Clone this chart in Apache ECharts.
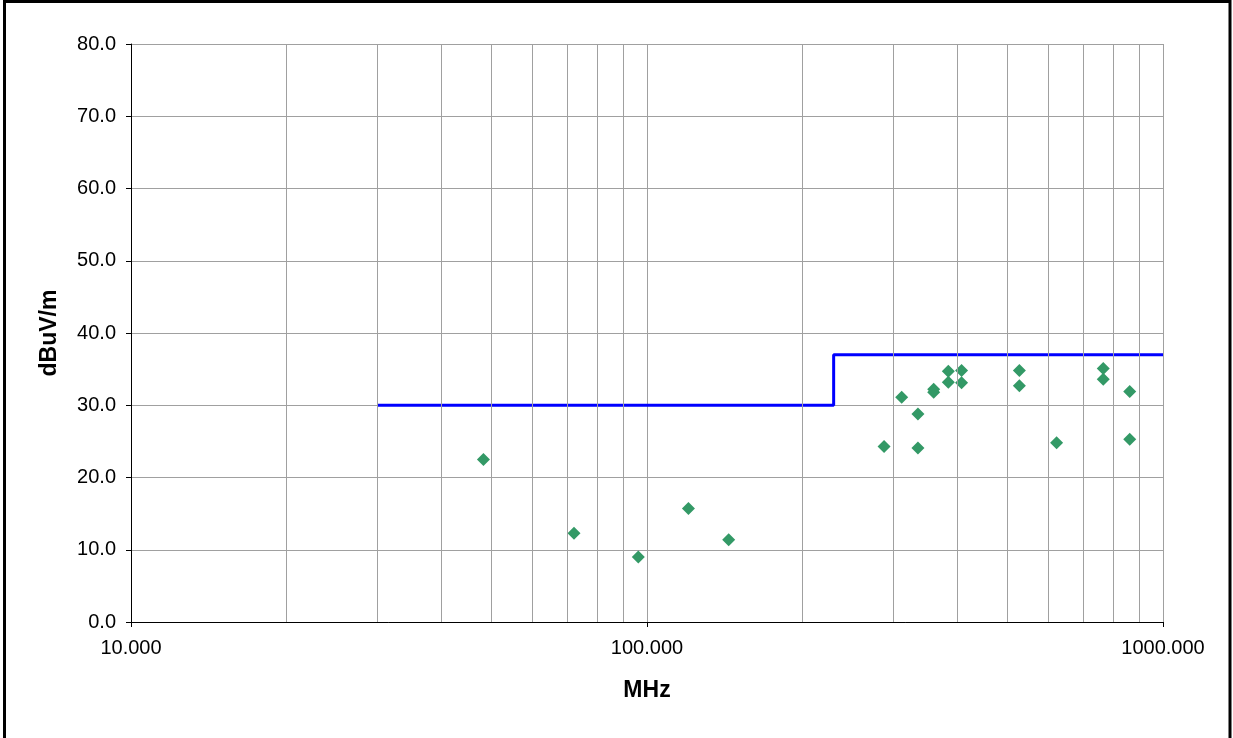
<!DOCTYPE html>
<html>
<head>
<meta charset="utf-8">
<script src="https://cdn.jsdelivr.net/npm/echarts@6/dist/echarts.min.js"></script>
<style>
html,body{margin:0;padding:0;background:#fff;}
#chart{width:1233px;height:738px;}
</style>
</head>
<body>
<div id="chart"></div>
<script>
// Measured emissions (MHz, dBuV/m)
const freqMHz = [48.2, 72.2, 96.2, 120.3, 144.0, 288, 311.6, 335, 335, 359.4, 359.4, 383.7, 383.7, 407, 407, 526.8, 526.8, 622, 766, 766, 862, 862];
const levels  = [22.5, 12.3, 9.0, 15.7, 11.4, 24.3, 31.1, 28.8, 24.1, 32.2, 31.8, 34.7, 33.2, 34.8, 33.1, 34.8, 32.7, 24.8, 35.1, 33.6, 31.9, 25.3];
// Limit line
const limitFreq = [30, 230, 230, 1000];
const limitLevel = [30, 30, 37, 37];
// Minor log grid lines
const minorGrid = [20, 30, 40, 50, 60, 70, 80, 90, 200, 300, 400, 500, 600, 700, 800, 900];
const yTicks = [0, 10, 20, 30, 40, 50, 60, 70, 80];

const chart = echarts.init(document.getElementById('chart'), null, {renderer: 'canvas'});
const font = 'Liberation Sans, Arial, sans-serif';
const option = {
  animation: false,
  backgroundColor: '#fff',
  grid: {left: 131, right: 70, top: 44, bottom: 116, containLabel: false},
  graphic: [{
    type: 'rect', silent: true, z: 100,
    shape: {x: 4.5, y: 1.5, width: 1225.5, height: 745},
    style: {fill: 'none', stroke: '#000', lineWidth: 3}
  }],
  xAxis: {
    type: 'log', logBase: 10, min: 10, max: 1000,
    name: 'MHz', nameLocation: 'middle', nameGap: 57,
    nameTextStyle: {fontFamily: font, fontSize: 23, fontWeight: 'bold', color: '#000'},
    axisLine: {show: true, onZero: false, lineStyle: {color: '#000', width: 1}},
    axisTick: {show: true, length: 5, inside: false, lineStyle: {color: '#000'}},
    axisLabel: {fontFamily: font, fontSize: 20, color: '#000', margin: 16,
      formatter: v => Number(v).toFixed(3)},
    splitLine: {show: true, lineStyle: {color: '#a0a0a0', width: 1}},
    minorTick: {show: false}, minorSplitLine: {show: false}
  },
  yAxis: {
    type: 'value', min: 0, max: 80, interval: 10,
    name: 'dBuV/m', nameLocation: 'middle', nameGap: 70,
    nameTextStyle: {fontFamily: font, fontSize: 23, fontWeight: 'bold', color: '#000'},
    axisLine: {show: true, lineStyle: {color: '#000', width: 1}},
    axisTick: {show: true, length: 5, lineStyle: {color: '#000'}},
    axisLabel: {fontFamily: font, fontSize: 20, color: '#000', margin: 15,
      formatter: v => Number(v).toFixed(1)},
    splitLine: {show: true, lineStyle: {color: '#a0a0a0', width: 1}}
  },
  series: [
    {
      type: 'line', name: 'grid', data: [], silent: true, z: 1,
      markLine: {
        silent: true, symbol: ['none', 'none'], label: {show: false},
        lineStyle: {color: '#a0a0a0', width: 1, type: 'solid'},
        data: minorGrid.map(f => ({xAxis: f}))
      }
    },
    {
      type: 'line', name: 'Limit', z: 3,
      data: limitFreq.map((f, i) => [f, limitLevel[i]]),
      symbol: 'none', lineStyle: {color: '#0000ff', width: 3}
    },
    {
      type: 'scatter', name: 'Data', z: 4,
      data: freqMHz.map((f, i) => [f, levels[i]]),
      symbol: 'diamond', symbolSize: 13,
      itemStyle: {color: '#339966', opacity: 1}
    }
  ]
};
chart.setOption(option);
</script>
</body>
</html>
